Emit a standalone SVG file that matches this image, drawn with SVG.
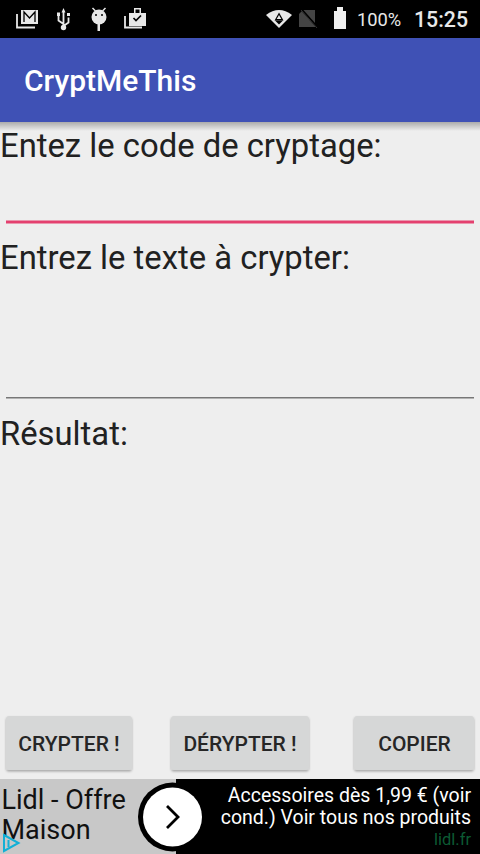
<svg xmlns="http://www.w3.org/2000/svg" width="480" height="854" viewBox="0 0 480 854">
<style>
text{font-family:Roboto,"Liberation Sans",sans-serif}
.l{font-size:32.800px;fill:#212121}
.b{font-size:21px;font-weight:500;fill:#262626;text-anchor:middle}
.btn{fill:#d6d7d7;filter:url(#s)}
.ic{fill:#e8e8e8}
.ad{font-size:19.500px;fill:#fff;text-anchor:end}
</style>
<defs>
<linearGradient id="g" x1="0" y1="0" x2="0" y2="1"><stop offset="0" stop-color="#000" stop-opacity=".28"/><stop offset="1" stop-color="#000" stop-opacity="0"/></linearGradient>
<filter id="s" x="-5%" y="-5%" width="110%" height="115%"><feDropShadow dx="0" dy="1.5" stdDeviation="1" flood-color="#000" flood-opacity=".3"/></filter>
</defs>
<rect width="480" height="854" fill="#eeeeee"/>
<g id="statusbar">
<rect width="480" height="38" fill="#000"/>
<g id="icons-left">
<path class="ic" d="M21 10h17v14h-17z"/><path d="M24 22v-10l5.500 6 5.500-6v10" fill="none" stroke="#000" stroke-width="1.300"/>
<path fill="none" stroke="#e8e8e8" stroke-width="1.800" d="M17 14v13.500h18"/>
<path fill="none" stroke="#e8e8e8" stroke-width="1.800" d="M63.500 11v16M63.500 24l-5-3.500v-4.500M63.500 26l5-3.500v-5"/>
<circle class="ic" cx="63.500" cy="27.500" r="2.700"/><path class="ic" d="M61.500 12.500l2-4.500 2 4.500zM57 12.500h3v3.500h-3zM67 13h3v3h-3z"/>
<circle class="ic" cx="99" cy="17" r="7.500"/><rect class="ic" x="97.500" y="22" width="2.500" height="9"/>
<path stroke="#e8e8e8" stroke-width="1.500" d="M92.500 8l3 3M105.500 8l-3 3"/>
<circle cx="96" cy="15" r="1" fill="#000"/><circle cx="102" cy="15" r="1" fill="#000"/>
<path class="ic" d="M129 13h17v13h-17zM134 13v-5h7v5h-1.500v-3.500h-4v3.500z"/>
<path fill="none" stroke="#000" stroke-width="1.700" d="M133.500 18l2.500 2.500 5-5"/>
<path fill="none" stroke="#e8e8e8" stroke-width="1.800" d="M125 16v11.500h17"/>
</g>
<g id="icons-right">
<path class="ic" d="M266 15q13-10 26 0l-13 13z"/><path d="M279 12.500l4.500 8h-9z" fill="#000"/><path d="M279 15l2.300 4h-4.600z" fill="#e8e8e8"/><path d="M275 20.500h8l-4 4z" fill="#000"/>
<path d="M303 10h12v17h-16v-13z" fill="#444"/><path d="M302 10l17 19" stroke="#000" stroke-width="2"/><path d="M301 10l16 18" stroke="#333" stroke-width="1"/>
<path d="M334 11h3v-4h6v4h3v18h-12z" fill="#efefef"/>
<text x="357" y="26" font-size="18.300" fill="#e8e8e8">100%</text>
<text x="414" y="27" font-size="21.300" font-weight="500" fill="#e8e8e8">15:25</text>
</g>
</g>
<g id="appbar">
<rect y="122" width="480" height="9" fill="url(#g)"/>
<rect y="38" width="480" height="84" fill="#3f51b5"/>
<text x="24" y="91" font-size="30" font-weight="500" fill="#fff">CryptMeThis</text>
</g>
<g id="field-code">
<text class="l" x="0" y="157">Entez le code de cryptage:</text>
<rect x="6" y="220.500" width="468" height="3" fill="#e4406f"/>
</g>
<g id="field-text">
<text class="l" x="0" y="269">Entrez le texte à crypter:</text>
<rect x="6" y="397" width="468" height="1.500" fill="#777"/>
</g>
<g id="result"><text class="l" x="0" y="445">Résultat:</text></g>
<g id="btn-crypter"><rect class="btn" x="6" y="716" width="126" height="54" rx="3"/><text class="b" x="69" y="751">CRYPTER !</text></g>
<g id="btn-decrypter"><rect class="btn" x="171" y="716" width="138" height="54" rx="3"/><text class="b" x="240" y="751">DÉRYPTER !</text></g>
<g id="btn-copier"><rect class="btn" x="354" y="716" width="120" height="54" rx="3"/><text class="b" x="414.500" y="751">COPIER</text></g>
<g id="ad">
<rect y="779" width="176" height="75" fill="#c8c8c8"/>
<rect x="176" y="779" width="304" height="75" fill="#000"/>
<text x="1.500" y="809" font-size="27" fill="#111">Lidl - Offre</text>
<text x="1.500" y="839" font-size="27" fill="#111">Maison</text>
<circle cx="172.500" cy="817" r="34.500" fill="#000"/><circle cx="172.500" cy="817" r="29.500" fill="#fff"/>
<path d="M167 806l11 11-11 11" fill="none" stroke="#000" stroke-width="2.800"/>
<text class="ad" x="471" y="802">Accessoires dès 1,99 € (voir</text>
<text class="ad" x="471" y="824">cond.) Voir tous nos produits</text>
<text x="471" y="845" font-size="16.500" fill="#0c5a33" text-anchor="end">lidl.fr</text>
<path d="M4 835l14.500 8-14.500 8z" fill="#c8c8c8" stroke="#12b0d6" stroke-width="2"/>
<path d="M8.500 840v7" stroke="#12b0d6" stroke-width="2"/>
</g>
</svg>
